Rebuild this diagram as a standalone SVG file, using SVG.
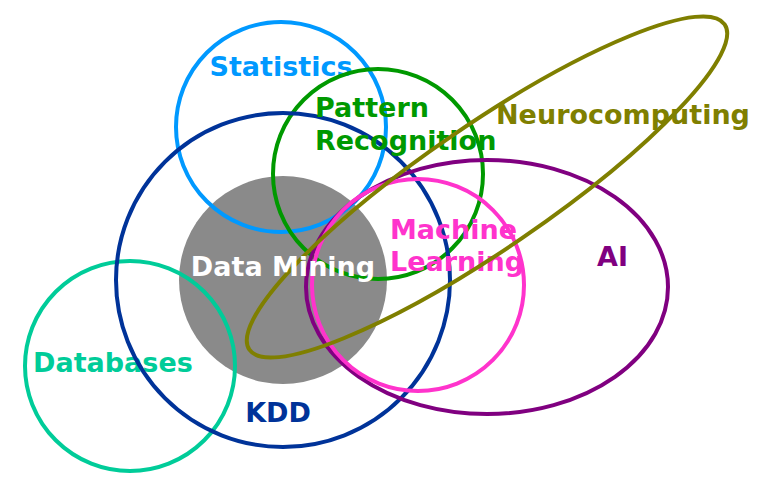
<svg xmlns="http://www.w3.org/2000/svg" width="767" height="493" viewBox="0 0 767 493">
<style>
.c{fill:none;stroke-width:4}
text{font-family:"DejaVu Sans",Verdana,sans-serif;font-weight:bold;font-size:27px}
</style>
<rect width="767" height="493" fill="#fff"/>
<g id="datamining"><circle cx="283" cy="280" r="104" fill="#8a8a8a"/></g>
<g id="statistics"><circle class="c" cx="281" cy="127" r="105" stroke="#0099ff"/>
<text x="281" y="76" text-anchor="middle" fill="#0099ff">Statistics</text></g>
<g id="databases"><circle class="c" cx="130" cy="366" r="105" stroke="#00cc99"/>
<text x="33" y="372" fill="#00cc99">Databases</text></g>
<g id="pattern"><circle class="c" cx="378" cy="174" r="105" stroke="#009900"/></g>
<g id="kdd"><circle class="c" cx="283" cy="280" r="167" stroke="#003399"/>
<text x="278" y="422" text-anchor="middle" fill="#003399">KDD</text></g>
<g id="ai"><ellipse class="c" cx="487" cy="287" rx="181" ry="127" stroke="#800080"/>
<text x="597" y="266" fill="#800080">AI</text></g>
<g id="ml"><circle class="c" cx="418" cy="285" r="106" stroke="#ff33cc"/>
<text x="390" y="239" fill="#ff33cc">Machine</text>
<text x="390" y="271" fill="#ff33cc">Learning</text></g>
<g id="pattern-label"><text x="315" y="117" fill="#009900">Pattern</text>
<text x="315" y="150" fill="#009900">Recognition</text></g>
<g id="neuro"><ellipse class="c" cx="487" cy="187" rx="288" ry="62" transform="rotate(-34.4 487 187)" stroke="#7f7f00"/>
<text x="496" y="124" fill="#7f7f00">Neurocomputing</text></g>
<g id="datamining-label"><text x="283" y="276" text-anchor="middle" fill="#ffffff">Data Mining</text></g>
</svg>
